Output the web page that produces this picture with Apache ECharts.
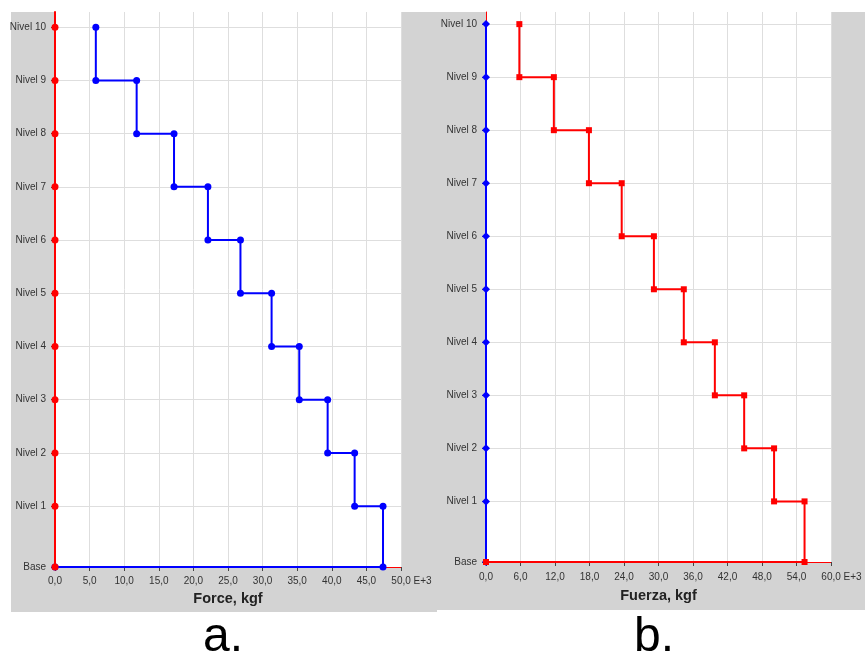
<!DOCTYPE html>
<html><head><meta charset="utf-8">
<script src="https://cdn.jsdelivr.net/npm/echarts@6/dist/echarts.min.js"></script>
<style>html,body{margin:0;padding:0;background:#fff}#c{width:865px;height:656px}</style>
</head><body><div id="c"></div>
<script>
// Level names and heights (m)
const levelNames = ['Base','Nivel 1','Nivel 2','Nivel 3','Nivel 4','Nivel 5','Nivel 6','Nivel 7','Nivel 8','Nivel 9','Nivel 10'];
const levelHeights = [0, 4, 7.5, 11, 14.5, 18, 21.5, 25, 28.5, 32, 35.5];
// Storey forces (x1000 kgf), Nivel 1 .. Nivel 10
const forceA = [47.4, 43.3, 39.4, 35.3, 31.3, 26.8, 22.1, 17.2, 11.8, 5.9];
const forceB = [55.4, 50.1, 44.9, 39.8, 34.4, 29.2, 23.6, 17.9, 11.8, 5.8];
const xTicksA = [0,5,10,15,20,25,30,35,40,45,50];
const xTicksB = [0,6,12,18,24,30,36,42,48,54,60];
const axisNameA = 'Force, kgf';
const axisNameB = 'Fuerza, kgf';
const panelLabels = ['a.', 'b.'];

function stepPath(forces){
  const pts = [];
  for (let i = forces.length; i >= 1; i--) {
    pts.push([forces[i-1], levelHeights[i]]);
    pts.push([forces[i-1], levelHeights[i-1]]);
  }
  pts.push([0, 0]);
  return pts;
}
const zeroPath = levelHeights.map(h => [0, h]);

const FONT = '"Liberation Sans", Arial, sans-serif';
const fmt = v => v.toFixed(1).replace('.', ',');

function xAxisCfg(idx, ticks, name, margin, gap){
  const last = ticks[ticks.length-1];
  return {
    type: 'value', gridIndex: idx, min: ticks[0], max: last, interval: ticks[1]-ticks[0],
    name: name, nameLocation: 'middle', nameGap: gap,
    nameTextStyle: {fontFamily: FONT, fontWeight: 'bold', fontSize: 14.5, color: '#222'},
    axisLine: {show: true, onZero: false, lineStyle: {color: '#ff0000', width: 1}},
    axisTick: {show: true, length: 4, lineStyle: {color: '#444'}},
    axisLabel: {
      margin: margin, fontFamily: FONT, fontSize: 10, color: '#333',
      formatter: v => v === last ? '{p|\u00a0}{t|' + fmt(v) + ' E+3}' : fmt(v),
      rich: {p: {width: 21, fontSize: 10, fontFamily: FONT}, t: {fontSize: 10, fontFamily: FONT, color: '#333'}}
    },
    splitLine: {show: true, lineStyle: {color: '#dedede', width: 1}}
  };
}
function yAxisCfg(idx, max, lineW){
  return {
    type: 'value', gridIndex: idx, min: 0, max: max,
    axisLine: {show: true, onZero: false, lineStyle: {color: '#ff0000', width: lineW}},
    axisTick: {show: true, length: 4, customValues: levelHeights, lineStyle: {color: '#444'}},
    axisLabel: {margin: 9, fontFamily: FONT, fontSize: 10, color: '#333', customValues: levelHeights,
      formatter: v => levelNames[levelHeights.indexOf(v)]},
    splitLine: {show: true, lineStyle: {color: '#dedede', width: 1}}
  };
}

const chart = echarts.init(document.getElementById('c'), null, {renderer: 'canvas'});
chart.setOption({
  animation: false,
  backgroundColor: '#ffffff',
  graphic: [
    {type: 'rect', z: -100, shape: {x: 11, y: 12, width: 426, height: 600}, style: {fill: '#d3d3d3'}},
    {type: 'rect', z: -99, shape: {x: 401, y: 12, width: 464, height: 598}, style: {fill: '#d3d3d3'}},
    {type: 'text', z: 10, x: 223, y: 638, style: {text: panelLabels[0], font: '48px ' + FONT, fill: '#000', align: 'center', verticalAlign: 'middle'}},
    {type: 'text', z: 10, x: 654, y: 638, style: {text: panelLabels[1], font: '48px ' + FONT, fill: '#000', align: 'center', verticalAlign: 'middle'}}
  ],
  grid: [
    {left: 55, top: 12, width: 346, bottom: 89, show: true, backgroundColor: '#fff', borderWidth: 0, containLabel: false},
    {left: 486, top: 12, width: 345, bottom: 94, show: true, backgroundColor: '#fff', borderWidth: 0, containLabel: false}
  ],
  xAxis: [xAxisCfg(0, xTicksA, axisNameA, 9, 24), xAxisCfg(1, xTicksB, axisNameB, 10, 26)],
  yAxis: [yAxisCfg(0, 36.5, 2), yAxisCfg(1, 36.3, 1)],
  series: [
    {type: 'line', xAxisIndex: 0, yAxisIndex: 0, data: stepPath(forceA), z: 3,
     lineStyle: {color: '#0000ff', width: 2}, itemStyle: {color: '#0000ff'}, symbol: 'circle', symbolSize: 7, showAllSymbol: true},
    {type: 'line', xAxisIndex: 0, yAxisIndex: 0, data: zeroPath, z: 4,
     lineStyle: {color: '#ff0000', width: 2}, itemStyle: {color: '#ff0000'}, symbol: 'circle', symbolSize: 7, showAllSymbol: true},
    {type: 'line', xAxisIndex: 1, yAxisIndex: 1, data: zeroPath, z: 3,
     lineStyle: {color: '#0000ff', width: 2}, itemStyle: {color: '#0000ff'}, symbol: 'diamond', symbolSize: 8, showAllSymbol: true},
    {type: 'line', xAxisIndex: 1, yAxisIndex: 1, data: stepPath(forceB), z: 4,
     lineStyle: {color: '#ff0000', width: 2}, itemStyle: {color: '#ff0000'}, symbol: 'rect', symbolSize: 6, showAllSymbol: true}
  ]
});
</script></body></html>
